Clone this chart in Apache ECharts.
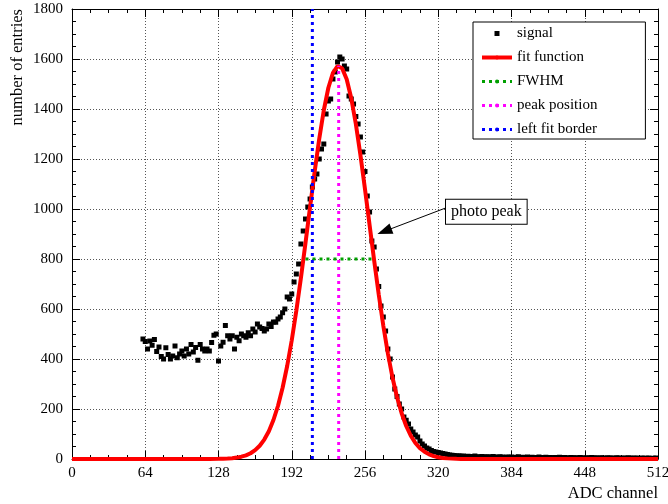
<!DOCTYPE html>
<html><head><meta charset="utf-8">
<script src="https://cdn.jsdelivr.net/npm/echarts@6/dist/echarts.min.js"></script>
<style>html,body{margin:0;padding:0;background:#fff}#c{width:668px;height:504px}</style>
</head><body><div id="c"></div>
<script>
// ---- tick labels ----
const xTicks = [0, 64, 128, 192, 256, 320, 384, 448, 512];
const yTicks = [0, 200, 400, 600, 800, 1000, 1200, 1400, 1600, 1800];

// ---- signal histogram (bin centre, entries) ----
const sigX = [
  62, 64, 66, 68, 70, 72, 74, 76, 78, 80,
  82, 84, 86, 88, 90, 92, 94, 96, 98, 100,
  102, 104, 106, 108, 110, 112, 114, 116, 118, 120,
  122, 124, 126, 128, 130, 132, 134, 136, 138, 140,
  142, 144, 146, 148, 150, 152, 154, 156, 158, 160,
  162, 164, 166, 168, 170, 172, 174, 176, 178, 180,
  182, 184, 186, 188, 190, 192, 194, 196, 198, 200,
  202, 204, 206, 208, 210, 212, 214, 216, 218, 220,
  222, 224, 226, 228, 230, 232, 234, 236, 238, 240,
  242, 244, 246, 248, 250, 252, 254, 256, 258, 260,
  262, 264, 266, 268, 270, 272, 274, 276, 278, 280,
  282, 284, 286, 288, 290, 292, 294, 296, 298, 300,
  302, 304, 306, 308, 310, 312, 314, 316, 318, 320,
  322, 324, 326, 328, 330, 332, 334, 336, 338, 340,
  342, 344, 346, 348, 350, 352, 354, 356, 358, 360,
  362, 364, 366, 368, 370, 372, 374, 376, 378, 380,
  382, 384, 386, 388, 390, 392, 394, 396, 398, 400,
  402, 404, 406, 408, 410, 412, 414, 416, 418, 420,
  422, 424, 426, 428, 430, 432, 434, 436, 438, 440,
  442, 444, 446, 448, 450, 452, 454, 456, 458, 460,
  462, 464, 466, 468, 470, 472, 474, 476, 478, 480,
  482, 484, 486, 488, 490, 492, 494, 496, 498, 500,
  502, 504, 506, 508, 510
];
const sigY = [
  480, 470, 440, 472, 455, 478, 430, 448, 410, 400,
  445, 418, 400, 412, 452, 405, 420, 432, 412, 440,
  420, 458, 428, 446, 395, 458, 440, 432, 440, 432,
  466, 495, 500, 392, 452, 467, 534, 493, 480, 493,
  440, 487, 473, 500, 493, 487, 505, 493, 520, 508,
  540, 528, 522, 512, 520, 540, 530, 548, 547, 560,
  568, 585, 600, 648, 640, 660, 708, 740, 780, 860,
  912, 960, 1008, 1040, 1088, 1120, 1140, 1200, 1240, 1260,
  1380, 1432, 1440, 1520, 1548, 1588, 1608, 1600, 1572, 1560,
  1452, 1440, 1420, 1370, 1340, 1288, 1228, 1150, 1052, 988,
  872, 848, 760, 690, 612, 568, 512, 440, 400, 328,
  280, 250, 220, 200, 168, 155, 140, 120, 108, 96,
  88, 72, 60, 52, 44, 40, 34, 30, 28, 26,
  24, 22, 20, 18, 16, 15, 14, 12, 13, 11,
  12, 10, 11, 9, 10, 12, 9, 8, 10, 9,
  8, 9, 7, 10, 8, 7, 9, 8, 6, 8,
  7, 8, 6, 7, 9, 6, 7, 5, 8, 6,
  7, 5, 6, 8, 5, 6, 7, 5, 6, 4,
  6, 5, 7, 4, 6, 5, 4, 6, 5, 5,
  4, 6, 5, 3, 5, 4, 6, 4, 5, 3,
  5, 4, 3, 5, 4, 4, 3, 5, 4, 3,
  4, 3, 5, 3, 4, 3, 4, 2, 4, 3,
  3, 4, 2, 3, 4
];

// ---- fit function ----
const fitX = [0, 120, 128, 132, 136, 140, 144, 148, 152, 156, 160, 164, 168, 172, 176, 180, 184, 188, 192, 196,
  200, 204, 208, 212, 216, 220, 224, 228, 232, 236, 240, 244, 248, 252, 256, 260, 264, 268, 272, 276,
  280, 284, 288, 292, 296, 300, 304, 308, 312, 316, 320, 324, 328, 332, 336, 340, 350, 512];
const fitY = [0, 0, 0.6, 1.1, 1.9, 3.3, 5.6, 9.2, 14.7, 23.1, 35.4, 53, 77.7, 111, 156, 213, 285, 372, 475, 593,
  724, 864, 1008, 1149, 1280, 1395, 1485, 1545, 1572, 1563, 1519, 1443, 1340, 1216, 1079, 936, 794, 658, 533, 422,
  326, 247, 183, 132, 93, 64, 43, 29, 18.5, 11.6, 7.2, 4.3, 2.5, 1.5, 0.8, 0.4, 0.1, 0];

// ---- marker lines ----
const fwhmX = [204, 264];
const fwhmY = [800, 800];
const peakX = [233, 233];
const peakY = [0, 1573];
const borderX = [210, 210];
const borderY = [0, 1800];

// ---- annotation ----
const annoText = 'photo peak';
const annoBox = [362, 989];
const arrowFrom = [327, 1005];
const arrowTo = [273, 911];

const FONT = "'Liberation Serif','Times New Roman',serif";
const zip = (xs, ys) => xs.map((x, i) => [x, ys[i]]);
const plain = v => String(v);

function xAxisCfg(top) {
  return {
    type: 'value', position: top ? 'top' : 'bottom',
    min: xTicks[0], max: xTicks[xTicks.length - 1], interval: xTicks[1] - xTicks[0],
    name: top ? '' : 'ADC channel', nameLocation: 'end', nameGap: 0,
    nameTextStyle: { fontFamily: FONT, fontSize: 16.5, color: '#000', align: 'right', verticalAlign: 'top', padding: [26, 0, 0, 0] },
    axisLine: { show: true, onZero: false, lineStyle: { color: '#000', width: 1 } },
    axisTick: { show: true, inside: true, length: 8, lineStyle: { color: '#000' } },
    minorTick: { show: true, splitNumber: 4, length: 4, lineStyle: { color: '#000' } },
    axisLabel: { show: !top, margin: 7, formatter: plain, fontFamily: FONT, fontSize: 15, color: '#000', hideOverlap: false, showMinLabel: true, showMaxLabel: true },
    splitLine: { show: !top, lineStyle: { color: '#555', type: [1, 2], width: 1 } },
    minorSplitLine: { show: false }
  };
}
function yAxisCfg(right) {
  return {
    type: 'value', position: right ? 'right' : 'left',
    min: yTicks[0], max: yTicks[yTicks.length - 1], interval: yTicks[1] - yTicks[0],
    name: right ? '' : 'number of entries', nameLocation: 'end', nameGap: 0, nameRotate: 90,
    nameTextStyle: { fontFamily: FONT, fontSize: 16.5, color: '#000', align: 'right', verticalAlign: 'bottom', padding: [0, 0, 46, 0] },
    axisLine: { show: true, onZero: false, lineStyle: { color: '#000', width: 1 } },
    axisTick: { show: true, inside: true, length: 8, lineStyle: { color: '#000' } },
    minorTick: { show: true, splitNumber: 4, length: 4, lineStyle: { color: '#000' } },
    axisLabel: { show: !right, margin: 9, formatter: plain, fontFamily: FONT, fontSize: 15, color: '#000', showMinLabel: true, showMaxLabel: true },
    splitLine: { show: !right, lineStyle: { color: '#555', type: [1, 2], width: 1 } }
  };
}

const chart = echarts.init(document.getElementById('c'), null, { renderer: 'canvas' });
chart.setOption({
  animation: false,
  backgroundColor: '#fff',
  grid: { left: 72, right: 10, top: 9, bottom: 45, containLabel: false, outerBoundsMode: 'none' },
  xAxis: [xAxisCfg(false), xAxisCfg(true)],
  yAxis: [yAxisCfg(false), yAxisCfg(true)],
  legend: {
    data: [{ name: 'signal', icon: 'path://M0,0h1v1h-1z' }, 'fit function', 'FWHM', 'peak position', 'left fit border'],
    orient: 'vertical', left: 473, top: 22,
    padding: [4, 48, 2, 7],
    itemWidth: 30, itemHeight: 5, itemGap: 9, itemTextGap: 5,
    textStyle: { fontFamily: FONT, fontSize: 15, color: '#000' },
    borderColor: '#000', borderWidth: 1, borderRadius: 0, backgroundColor: '#fff',
    lineStyle: { width: 'inherit' },
    selectedMode: false
  },
  series: [
    {
      name: 'signal', type: 'scatter', data: zip(sigX, sigY),
      symbol: 'rect', symbolSize: 5, itemStyle: { color: '#000', opacity: 1 }, z: 2
    },
    {
      name: 'fit function', type: 'line', data: zip(fitX, fitY), symbol: 'none',
      lineStyle: { color: '#ff0000', width: 4 }, itemStyle: { color: '#ff0000' }, z: 3,
      markLine: {
        silent: true, symbol: ['none', 'triangle'], symbolSize: [11, 15],
        lineStyle: { color: '#000', width: 1, type: 'solid' },
        itemStyle: { color: '#000' },
        label: { show: false },
        data: [[{ coord: arrowFrom }, { coord: arrowTo }]],
        z: 8
      },
      markPoint: {
        silent: true, symbol: 'rect', symbolSize: 1,
        itemStyle: { color: 'rgba(0,0,0,0)' },
        label: {
          show: true, position: 'inside', formatter: annoText, fontFamily: FONT, fontSize: 16, color: '#000',
          backgroundColor: '#fff', borderColor: '#000', borderWidth: 1, padding: [4, 5, 4, 5]
        },
        data: [{ coord: annoBox }],
        z: 9
      }
    },
    {
      name: 'FWHM', type: 'line', data: zip(fwhmX, fwhmY), symbol: 'none',
      lineStyle: { color: '#00a000', width: 3, type: [3, 4] }, itemStyle: { color: '#00a000' }, z: 4
    },
    {
      name: 'peak position', type: 'line', data: zip(peakX, peakY), symbol: 'none',
      lineStyle: { color: '#ff00ff', width: 3, type: [3, 4] }, itemStyle: { color: '#ff00ff' }, z: 4
    },
    {
      name: 'left fit border', type: 'line', data: zip(borderX, borderY), symbol: 'none',
      lineStyle: { color: '#0000ff', width: 3, type: [3, 4] }, itemStyle: { color: '#0000ff' }, z: 5
    }
  ]
});
</script>
</body></html>
